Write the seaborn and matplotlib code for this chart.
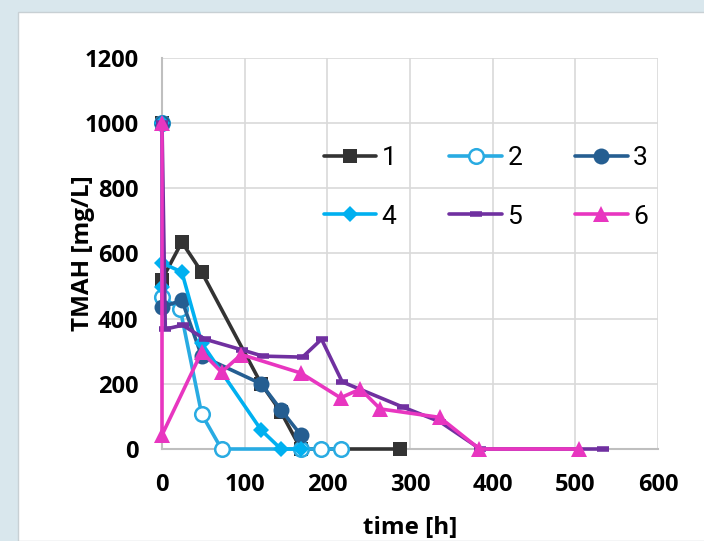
import matplotlib
matplotlib.use("Agg")
import matplotlib.pyplot as plt
import seaborn as sns
import pandas as pd
from matplotlib.patches import Rectangle

sns.set_theme(style="whitegrid")
plt.rcParams['font.family'] = ['Open Sans', 'DejaVu Sans']
plt.rcParams['text.color'] = 'black'
plt.rcParams['axes.labelcolor'] = 'black'

# ---- data ----
t1 = [0, 0, 24, 48, 120, 144, 168, 288]
v1 = [1000, 520, 635, 543, 200, 113, 0, 0]

t2 = [0, 0, 22, 48, 72, 168, 192, 216]
v2 = [1000, 466, 430, 107, 0, 0, 0, 0]

t3 = [0, 0, 24, 48, 120, 144, 168]
v3 = [1000, 435, 457, 285, 200, 120, 43]

t4 = [0, 0, 0, 24, 48, 120, 144, 168]
v4 = [1000, 497, 571, 543, 325, 58, 0, 0]

t5 = [0, 4, 25, 52, 97, 122, 170, 193, 218, 291, 336, 385, 533]
v5 = [1000, 368, 380, 337, 304, 285, 282, 337, 206, 129, 84, 0, 0]

t6 = [0, 0, 48, 72, 96, 168, 216, 240, 264, 336, 384, 504]
v6 = [1000, 43, 298, 236, 290, 233, 157, 184, 123, 97, 0, 0]

labels = ["1", "2", "3", "4", "5", "6"]
x_ticks = [0, 100, 200, 300, 400, 500, 600]
y_ticks = [0, 200, 400, 600, 800, 1000, 1200]

series = [(t1, v1), (t2, v2), (t3, v3), (t4, v4), (t5, v5), (t6, v6)]
colors = ["#333333", "#29abe2", "#255e91", "#00b0f0", "#7030a0", "#e836c0"]
markers = ["s", "o", "o", "D", "_", "^"]
msizes = [10.5, 10.5, 11.5, 8, 8, 12]

fig = plt.figure(figsize=(7.04, 5.41), dpi=100)
fig.patch.set_facecolor("#d9e7ed")
fig.patches.append(Rectangle((18 / 704, 0), 1, (541 - 12) / 541, transform=fig.transFigure,
                             facecolor="white", edgecolor="#c8d0d4", lw=1, zorder=-5))
ax = fig.add_axes([162 / 704, 1 - 449 / 541, 496 / 704, 391 / 541])
ax.set_zorder(2)
ax.set_facecolor("white")

for i, ((t, v), lab) in enumerate(zip(series, labels)):
    df = pd.DataFrame({"t": t, "v": v})
    face = "white" if i == 1 else colors[i]
    mew = 1.8 if i == 1 else (4 if i == 4 else 0)
    sns.lineplot(data=df, x="t", y="v", sort=False, estimator=None, ax=ax,
                 color=colors[i], lw=2.6, marker=markers[i], markersize=msizes[i],
                 markerfacecolor=face, markeredgecolor=colors[i], markeredgewidth=mew,
                 label=lab, zorder=3 + i, clip_on=False)

ax.set_xlim(0, 600)
ax.set_ylim(0, 1200)
ax.set_xticks(x_ticks)
ax.set_yticks(y_ticks)
ax.set_xticklabels([str(x) for x in x_ticks], fontsize=17, fontweight="bold")
ax.set_yticklabels([str(y) for y in y_ticks], fontsize=17, fontweight="bold")
ax.tick_params(axis="both", length=0, colors="black")
ax.tick_params(axis="x", pad=17)
ax.tick_params(axis="y", pad=17)
ax.grid(True, color="#d9d9d9", lw=1.2)
for s in ["top", "right"]:
    ax.spines[s].set_visible(False)
for s in ["left", "bottom"]:
    ax.spines[s].set_color("#bfbfbf")
    ax.spines[s].set_linewidth(1.5)

ax.set_xlabel("time [h]", fontsize=17.5, fontweight="bold", labelpad=14)
ax.set_ylabel("TMAH [mg/L]", fontsize=17.5, fontweight="bold", labelpad=-8)

handles, labs = ax.get_legend_handles_labels()
order = [0, 3, 1, 4, 2, 5]
leg = ax.legend([handles[k] for k in order], [labs[k] for k in order],
                loc="upper left", bbox_to_anchor=(0.278, 0.835), ncol=3, frameon=False,
                prop={"family": ["Roboto", "DejaVu Sans"], "size": 19},
                handlelength=2.0, columnspacing=2.0, labelspacing=1.3,
                handletextpad=0.2, labelcolor="black")

fig.savefig("out.png", dpi=100, facecolor=fig.get_facecolor())
